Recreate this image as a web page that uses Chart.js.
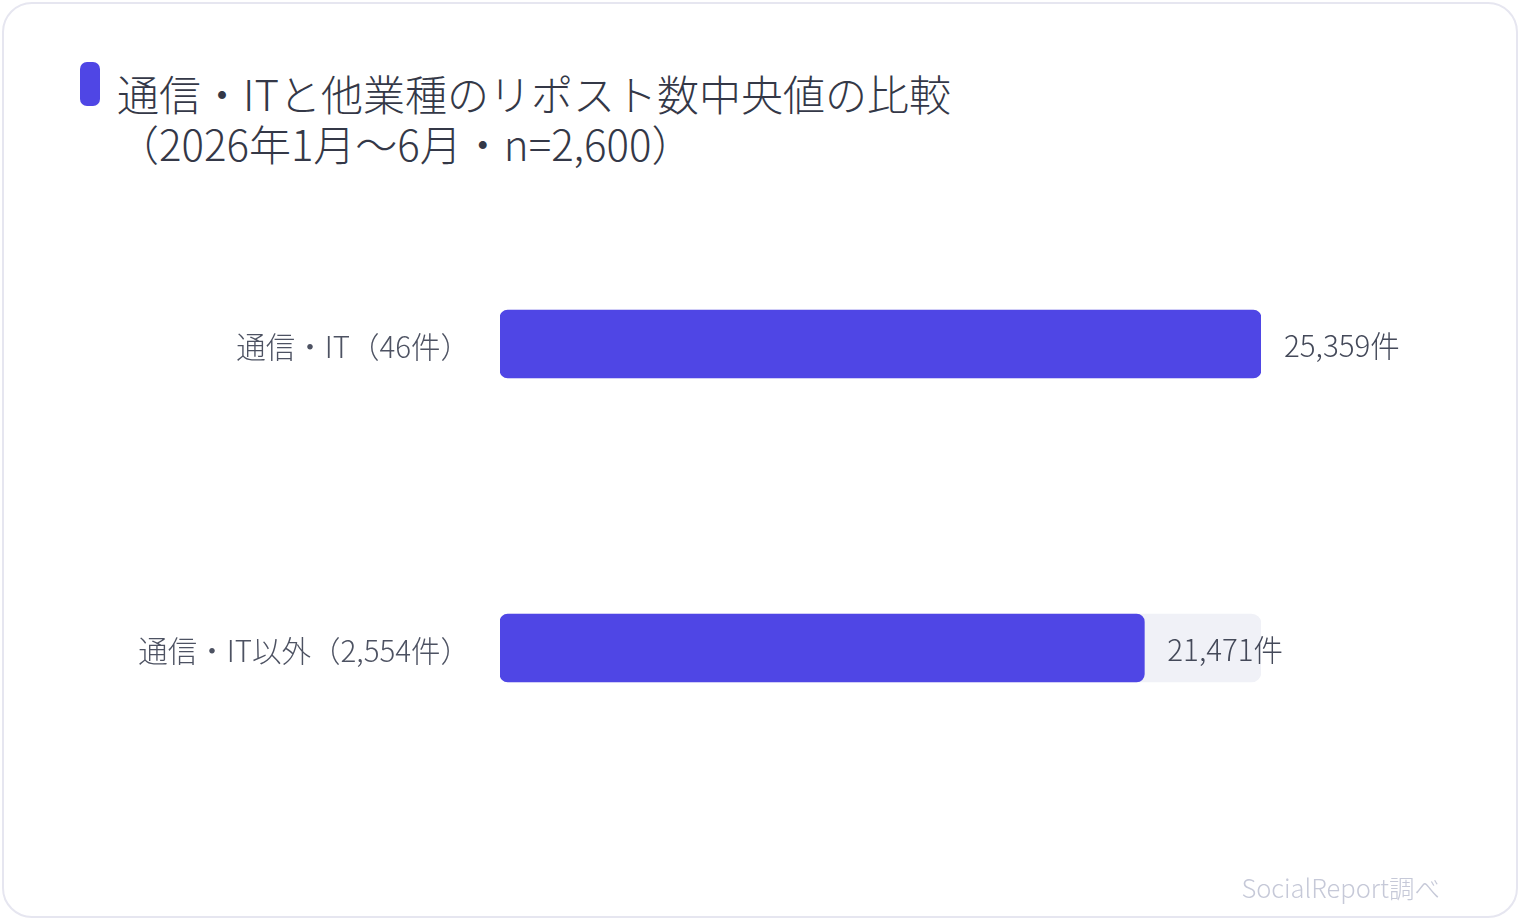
<!DOCTYPE html>
<html lang="ja">
<head>
<meta charset="utf-8">
<script src="https://cdn.jsdelivr.net/npm/chart.js@4"></script>
<style>
  html, body { margin: 0; padding: 0; background: #ffffff; }
  body { width: 1520px; height: 920px; position: relative; overflow: hidden;
         font-family: "Noto Sans CJK JP", "Noto Sans", sans-serif; }
  .card { position: absolute; left: 2px; top: 2px; width: 1512px; height: 912px;
          border: 2px solid #e6e6f0; border-radius: 30px; background: #fff; }
  .accent { position: absolute; left: 80px; top: 62px; width: 20px; height: 44px;
            border-radius: 7px; background: #4f46e5; }
  .title { position: absolute; left: 117px; top: 68px; margin: 0;
           font-size: 42px; font-weight: 300; line-height: 50px; color: #343847; }
  .source { position: absolute; right: 80px; top: 868px; font-size: 25.5px;
            font-weight: 300; color: #c6c9d8; }
  #wrap { position: absolute; left: 0; top: 0; width: 1520px; height: 920px; }
</style>
</head>
<body>
<div class="card"></div>
<div class="accent"></div>
<h1 class="title">通信・ITと他業種のリポスト数中央値の比較<br>（2026年1月〜6月・n=2,600）</h1>
<div id="wrap"><canvas id="chart"></canvas></div>
<div class="source">SocialReport調べ</div>
<script>
const categories = ['通信・IT（46件）', '通信・IT以外（2,554件）'];
const medianReposts = [25359, 21471];
const axisMax = 25359;
const unitLabel = '件';

const fontFamily = '"Noto Sans CJK JP", "Noto Sans", sans-serif';

const valueLabels = {
    id: 'valueLabels',
    afterDatasetsDraw(chart) {
        const ctx = chart.ctx;
        const meta = chart.getDatasetMeta(1);
        ctx.save();
        ctx.font = '300 29.5px ' + fontFamily;
        ctx.fillStyle = '#444959';
        ctx.textAlign = 'left';
        ctx.textBaseline = 'middle';
        meta.data.forEach((bar, i) => {
            const text = medianReposts[i].toLocaleString('en-US') + unitLabel;
            ctx.fillText(text, bar.x + 23, bar.y + 2);
        });
        ctx.restore();
    }
};

const ctx = document.getElementById('chart').getContext('2d');
new Chart(ctx, {
    type: 'bar',
    data: {
        labels: categories,
        datasets: [{
            data: categories.map(() => axisMax),
            backgroundColor: '#f0f1f7',
            borderRadius: 10,
            borderSkipped: false,
            barThickness: 68,
            grouped: false,
            order: 2
        }, {
            data: medianReposts,
            backgroundColor: '#4f46e5',
            borderRadius: 8,
            borderSkipped: false,
            barThickness: 68,
            grouped: false,
            order: 1
        }]
    },
    options: {
        indexAxis: 'y',
        responsive: true,
        maintainAspectRatio: false,
        animation: false,
        layout: {
            padding: { top: 192, bottom: 120, left: 0, right: 259 }
        },
        scales: {
            x: {
                display: false,
                min: 0,
                max: axisMax
            },
            y: {
                afterFit(scale) { scale.width = 500; },
                grid: { display: false, drawTicks: false },
                border: { display: false },
                ticks: {
                    padding: 30,
                    labelOffset: 3,
                    color: '#4d5262',
                    font: { family: fontFamily, size: 29.5, weight: '300' }
                }
            }
        },
        plugins: {
            legend: { display: false },
            tooltip: { enabled: false }
        }
    },
    plugins: [valueLabels]
});
</script>
</body>
</html>
